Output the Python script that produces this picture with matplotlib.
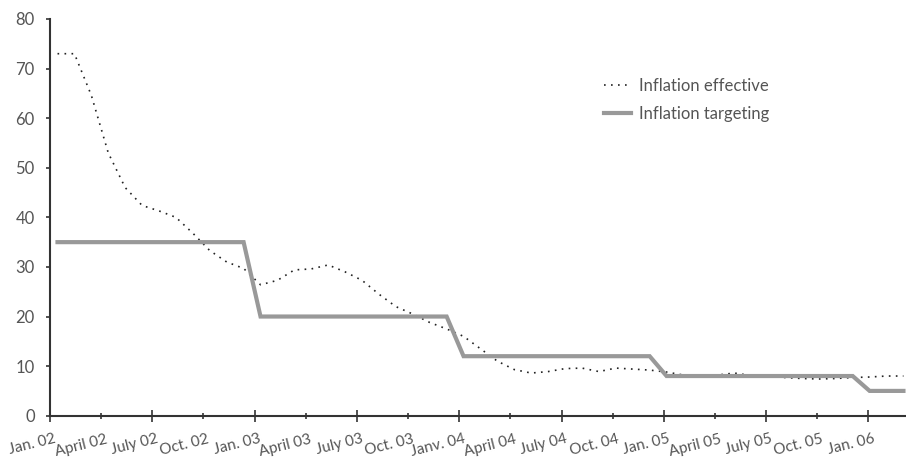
import numpy as np
import matplotlib.pyplot as plt
from matplotlib.ticker import MultipleLocator
import matplotlib.transforms as mtransforms

plt.rcParams["font.family"] = ["Lato", "DejaVu Sans"]

# monthly values, Jan. 02 .. Mar. 06
effective = [73, 73, 64.6, 53, 46, 42.4, 41.3, 40, 36.8, 33.3, 31, 29.7,
             26.4, 27.3, 29.4, 29.6, 30.4, 29, 27.3, 24.5, 22, 20.5, 18.8, 17.5,
             16, 13.5, 11, 9.3, 8.6, 8.9, 9.5, 9.6, 8.9, 9.6, 9.4, 9.2,
             8.8, 8.2, 7.8, 8.2, 8.6, 8.1, 7.9, 7.7, 7.5, 7.4, 7.5, 7.7,
             7.8, 8.0, 8.0]
targeting = [35] * 12 + [20] * 12 + [12] * 12 + [8] * 12 + [5] * 3

tick_labels = ["Jan. 02", "April 02", "July 02", "Oct. 02",
               "Jan. 03", "April 03", "July 03", "Oct. 03",
               "Janv. 04", "April 04", "July 04", "Oct. 04",
               "Jan. 05", "April 05", "July 05", "Oct. 05",
               "Jan. 06"]

x = np.linspace(0.44, 50.05, len(effective))

fig = plt.figure(figsize=(9.06, 4.58), dpi=100)
ax = fig.add_axes([50 / 906, (458 - 415.7) / 458, 1 - 50 / 906, (415.7 - 19) / 458])

ax.plot(x, effective, color="#222222", lw=1.2, linestyle=(0, (1, 3.2)),
        label="Inflation effective", zorder=2)
ax.plot(x, targeting, color="#999999", lw=3, solid_joinstyle="miter",
        label="Inflation targeting", zorder=3)

ax.set_xlim(0, 50.2)
ax.set_ylim(0, 80)
ax.yaxis.set_major_locator(MultipleLocator(10))

for s in ["top", "right"]:
    ax.spines[s].set_visible(False)
for s in ["left", "bottom"]:
    ax.spines[s].set_color("#333333")
    ax.spines[s].set_linewidth(1.5)

ax.tick_params(axis="y", length=3, width=1.2, color="#333333",
               labelsize=12, labelcolor="#555555", pad=8)

ax.set_xticks(np.arange(0, 49, 6))
ax.set_xticks(np.arange(3, 49, 6), minor=True)
ax.tick_params(axis="x", which="major", direction="inout", length=9, width=1.2,
               color="#333333", labelbottom=False)
ax.tick_params(axis="x", which="minor", direction="inout", length=5, width=1.2,
               color="#333333")

offset = mtransforms.ScaledTranslation(4 / 100, -16.5 / 100, fig.dpi_scale_trans)
for i, lab in enumerate(tick_labels):
    ax.text(i * 3, 0, lab, transform=ax.get_xaxis_transform() + offset,
            ha="right", va="top", rotation=14, rotation_mode="anchor",
            fontsize=11, color="#555555")

ax.legend(loc="upper left", bbox_to_anchor=(604 / 906, 1 - 78 / 458),
          bbox_transform=fig.transFigure, frameon=False, fontsize=12,
          borderpad=0, borderaxespad=0, handlelength=1.6, handletextpad=0.5,
          labelspacing=0.7, labelcolor="#555555")

fig.savefig("out.png", dpi=100)
plt.close("all")
